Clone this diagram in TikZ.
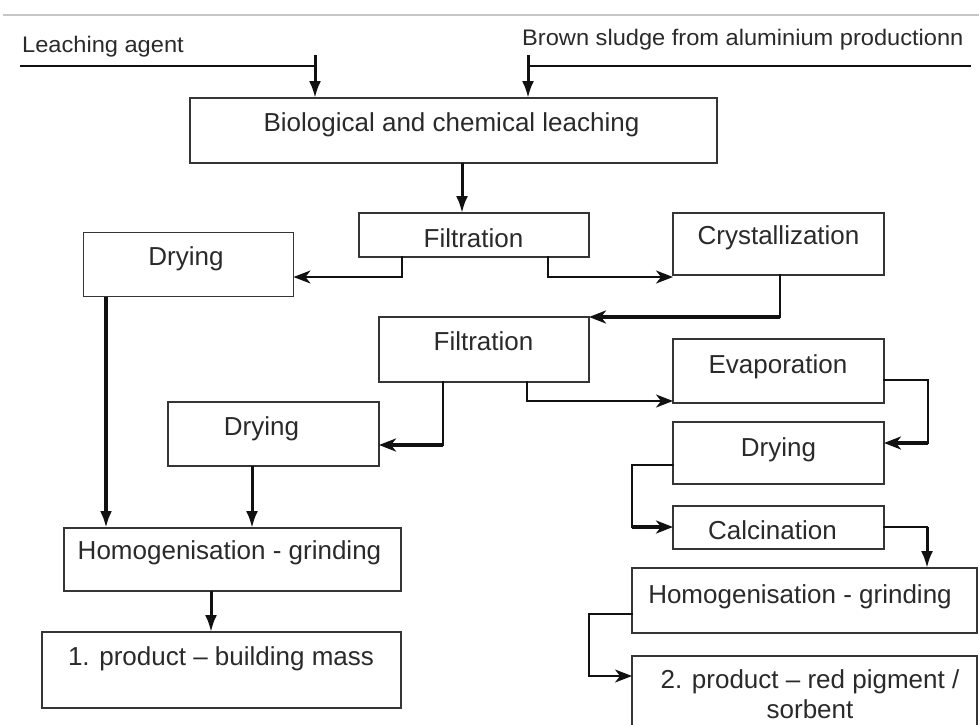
\documentclass[tikz,border=0pt]{standalone}
\usepackage{fontspec}
\setmainfont{Liberation Sans}
\newfontfamily\topfont{Liberation Sans}[FakeStretch=1.05]
\usetikzlibrary{arrows.meta}
\definecolor{txt}{HTML}{2A2A2A}
\definecolor{edge}{HTML}{353535}
\definecolor{wirec}{HTML}{111111}
\begin{document}
\begin{tikzpicture}[x=1pt,y=-1pt,
  box/.style={draw=edge,line width=1.4pt,inner sep=0pt,outer sep=0pt},
  lab/.style={font=\fontsize{26}{31}\selectfont,text=txt,anchor=base,inner sep=0pt},
  toplab/.style={font=\topfont\fontsize{22.5}{26}\selectfont,text=txt,anchor=base west,inner sep=0pt},
  wire/.style={draw=wirec,line width=1.9pt,line cap=rect},
  arr/.style={wire,-{Stealth[length=17pt,width=13pt,inset=5pt]}},
  arrthick/.style={draw=wirec,line width=3.6pt,-{Stealth[length=17pt,width=13pt,inset=5pt]}},
  varr/.style={draw=wirec,line width=3pt,-{Latex[length=17pt,width=12pt]}},
  varrthick/.style={draw=wirec,line width=3.8pt,-{Latex[length=17pt,width=12pt]}}]
\useasboundingbox (0,0) rectangle (979,724);
\clip (0,0) rectangle (979,724);
\fill[white] (0,0) rectangle (979,724);

% top border line
\draw[gray!45,line width=1.5pt] (3,15) -- (979,15);

% boxes
\node[box,minimum width=527pt,minimum height=65pt] (lea)   at (453.5,130.5) {};
\node[box,minimum width=230pt,minimum height=44pt] (fil1)  at (474,235) {};
\node[box,minimum width=210pt,minimum height=64pt] (dry1)  at (188.5,264.5) {};
\node[box,minimum width=211pt,minimum height=62pt] (cry)   at (778.5,244) {};
\node[box,minimum width=210pt,minimum height=65pt] (fil2)  at (484,349.5) {};
\node[box,minimum width=211pt,minimum height=64pt] (eva)   at (778.5,371) {};
\node[box,minimum width=211pt,minimum height=64pt] (dry2)  at (273.5,434) {};
\node[box,minimum width=211pt,minimum height=62pt] (dry3)  at (778.5,453) {};
\node[box,minimum width=211pt,minimum height=43pt] (cal)   at (778.5,527.5) {};
\node[box,minimum width=337pt,minimum height=63pt] (hom1)  at (232.5,559.5) {};
\node[box,minimum width=345pt,minimum height=65pt] (hom2)  at (804.5,600.5) {};
\node[box,minimum width=359pt,minimum height=76pt] (prod1) at (221.5,670) {};
\node[box,minimum width=345pt,minimum height=84pt] (prod2) at (804.5,698) {};

% texts
\node[toplab] (tla) at (22,52) {Leaching agent};
\node[toplab] (tbs) at (522,45) {Brown sludge from aluminium productionn};
\node[lab] (t1) at (451.5,131) {Biological and chemical leaching};
\node[lab] (t2) at (473.5,247) {Filtration};
\node[lab] (t3) at (186,265) {Drying};
\node[lab] (t4) at (778.5,244) {Crystallization};
\node[lab] (t5) at (483.5,350) {Filtration};
\node[lab] (t6) at (778,373) {Evaporation};
\node[lab] (t7) at (261.5,435) {Drying};
\node[lab] (t8) at (778.5,456) {Drying};
\node[lab] (t9) at (772.5,539) {Calcination};
\node[lab] (t10) at (229.5,559) {Homogenisation - grinding};
\node[lab] (t11) at (800,603) {Homogenisation - grinding};
\node[lab] (t12) at (221,665) {1. product -- building mass};
\node[lab] (t13) at (810,688) {2. product -- red pigment /};
\node[lab] (t14) at (810,718) {sorbent};

% helper coordinates
\coordinate (lal) at (21,66);
\coordinate (la)  at (315,55);
\coordinate (lar) at (315,66);
\coordinate (bsl) at (528,55);
\coordinate (bsm) at (528,66);
\coordinate (bsr) at (970,66);
\coordinate (v1)  at (462,0);
\coordinate (b1)  at (402,277);
\coordinate (b2)  at (548,277);
\coordinate (b3)  at (780,317);
\coordinate (b4)  at (443,445);
\coordinate (b5)  at (527,401);
\coordinate (b6a) at (928,380);
\coordinate (b6b) at (928,443);
\coordinate (b7a) at (632,465);
\coordinate (b7b) at (632,527);
\coordinate (b8)  at (927,527);
\coordinate (b9a) at (589,614);
\coordinate (b9b) at (589,676);
\coordinate (v2)  at (106,0);
\coordinate (v3)  at (252,0);
\coordinate (v4)  at (211,0);

% inputs
\draw[wire] (lal) -- (lar);
\draw[varr] (la) -- (la |- lea.north);
\draw[wire] (bsm) -- (bsr);
\draw[varr] (bsl) -- (bsl |- lea.north);

% connectors
\draw[varr] (lea.south -| v1) -- (fil1.north -| v1);
\draw[wire] (fil1.south -| b1) -- (b1);
\draw[arr] (b1) -- (dry1.east |- b1);
\draw[wire] (fil1.south -| b2) -- (b2);
\draw[arr] (b2) -- (cry.west |- b2);
\draw[wire] (cry.south -| b3) -- (b3);
\draw[arrthick] (b3) -- (fil2.north east);
\draw[wire] (fil2.south -| b4) -- (b4);
\draw[arrthick] (b4) -- (dry2.east |- b4);
\draw[wire] (fil2.south -| b5) -- (b5);
\draw[arr] (b5) -- (eva.west |- b5);
\draw[wire] (eva.east |- b6a) -- (b6a) -- (b6b);
\draw[arrthick] (b6b) -- (dry3.east |- b6b);
\draw[wire] (dry3.west |- b7a) -- (b7a) -- (b7b);
\draw[arrthick] (b7b) -- (cal.west |- b7b);
\draw[wire] (cal.east |- b8) -- (b8);
\draw[varr] (b8) -- (hom2.north -| b8);
\draw[wire] (hom2.west |- b9a) -- (b9a) -- (b9b);
\draw[arr] (b9b) -- (prod2.west |- b9b);
\draw[varrthick] (dry1.south -| v2) -- (hom1.north -| v2);
\draw[varr] (dry2.south -| v3) -- (hom1.north -| v3);
\draw[varr] (hom1.south -| v4) -- (prod1.north -| v4);
\end{tikzpicture}
\end{document}
